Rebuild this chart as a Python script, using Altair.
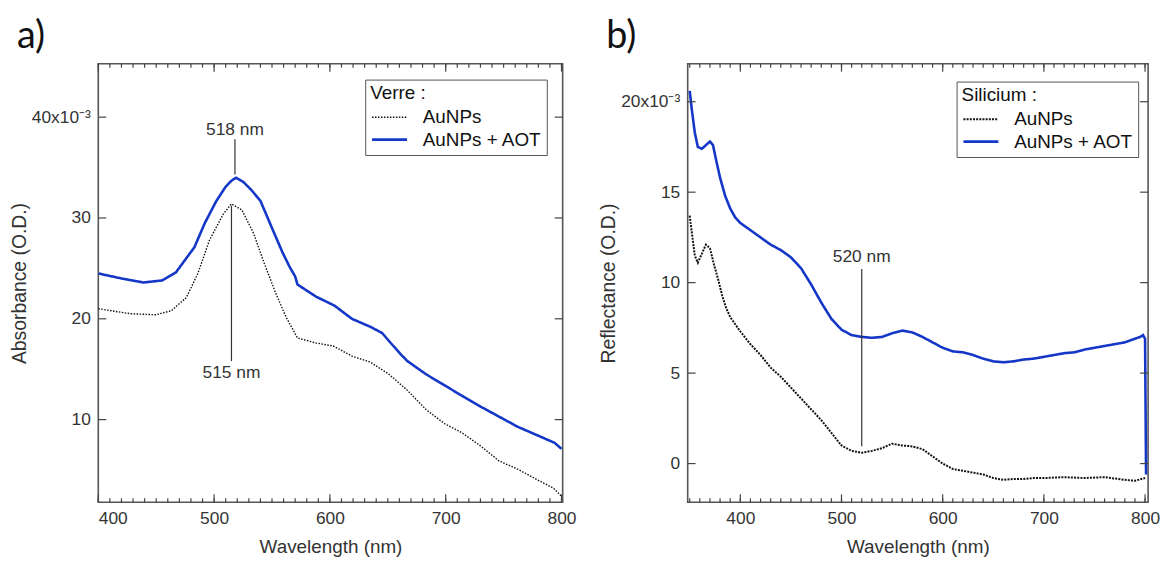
import altair as alt
import pandas as pd

# ---------------- Panel a : Verre ----------------
wl_a_aunps = [400, 428, 450, 463, 476, 486, 496, 508, 515, 524, 534, 543, 553, 562, 572,
              588, 603, 619, 635, 651, 667, 683, 699, 714, 730, 746, 762, 778, 793, 800]
abs_a_aunps = [21.0, 20.5, 20.4, 20.8, 22.1, 24.5, 27.8, 30.4, 31.4, 30.8, 28.5, 25.6, 22.6, 20.2, 18.1,
               17.6, 17.3, 16.3, 15.7, 14.5, 12.9, 11.0, 9.6, 8.7, 7.4, 5.9, 5.1, 4.1, 3.2, 2.4]

wl_a_aot = [400, 420, 439, 455, 467, 483, 492, 502, 510, 515, 519, 525, 532, 540, 550, 559, 565, 570,
            572, 588, 604, 619, 635, 645, 651, 661, 667, 683, 699, 715, 730, 746, 762, 778, 794, 800]
abs_a_aot = [24.5, 24.0, 23.6, 23.8, 24.6, 27.1, 29.5, 31.7, 33.1, 33.7, 34.0, 33.6, 32.8, 31.7, 29.0, 26.6, 25.2, 24.2,
             23.4, 22.2, 21.3, 20.0, 19.2, 18.6, 17.8, 16.5, 15.8, 14.5, 13.4, 12.3, 11.3, 10.3, 9.3, 8.5, 7.7, 7.1]

# annotations a
ann_a_wl = [518, 515]
ann_a_y1 = [37.8, 31.2]
ann_a_y2 = [34.3, 15.8]
ann_a_text = ["518 nm", "515 nm"]
ann_a_texty = [38.25, 14.1]

# ---------------- Panel b : Silicium ----------------
wl_b_aunps = [350, 352, 355, 358, 362, 366, 370, 374, 378, 382, 386, 390, 400, 410, 420, 430, 440, 450,
              460, 470, 480, 490, 500, 510, 520, 530, 540, 550, 560, 570, 580, 590, 600, 610, 620, 630,
              640, 650, 660, 670, 680, 690, 700, 720, 740, 760, 780, 790, 800]
ref_b_aunps = [13.7, 12.8, 11.5, 11.1, 11.6, 12.1, 11.9, 11.0, 10.2, 9.3, 8.6, 8.1, 7.3, 6.6, 6.0, 5.3, 4.8, 4.2,
               3.6, 3.0, 2.4, 1.7, 1.0, 0.7, 0.6, 0.7, 0.85, 1.1, 1.0, 0.95, 0.8, 0.4, 0.0, -0.3, -0.4, -0.5,
               -0.6, -0.8, -0.9, -0.85, -0.85, -0.8, -0.8, -0.75, -0.8, -0.75, -0.9, -0.95, -0.8]

wl_b_aot = [350, 352, 355, 358, 362, 366, 370, 373, 376, 380, 385, 390, 395, 400, 410, 420, 430, 440, 450,
            460, 470, 480, 490, 500, 510, 520, 530, 540, 550, 560, 570, 580, 590, 600, 610, 620, 630, 640,
            650, 660, 670, 680, 690, 700, 710, 720, 730, 740, 750, 760, 770, 780, 790, 795, 798, 800, 801]
ref_b_aot = [20.6, 19.6, 18.3, 17.5, 17.4, 17.6, 17.8, 17.6, 16.8, 15.8, 14.8, 14.1, 13.6, 13.3, 12.9, 12.5, 12.1, 11.8, 11.4,
             10.8, 9.9, 8.9, 8.0, 7.4, 7.1, 7.0, 6.95, 7.0, 7.2, 7.35, 7.25, 7.0, 6.7, 6.4, 6.2, 6.15, 6.0, 5.8,
             5.65, 5.6, 5.65, 5.75, 5.8, 5.9, 6.0, 6.1, 6.15, 6.3, 6.4, 6.5, 6.6, 6.7, 6.9, 7.0, 7.1, 6.9, -0.6]

ann_b_wl = [520]
ann_b_y1 = [10.75]
ann_b_y2 = [0.96]
ann_b_text = ["520 nm"]
ann_b_texty = [11.13]

# ticks
x_major = [400, 500, 600, 700, 800]
x_minor_a = list(range(400, 801, 10))
x_minor_b = list(range(350, 801, 10))
y_major_a = [10, 20, 30, 40]
y_major_b = [0, 5, 10, 15, 20]

panel_labels = ["a)", "b)"]
series_names = ["AuNPs", "AuNPs + AOT"]
series_colors = ["#111111", "#1537c8"]

FONT = "Liberation Sans"
TXT = "#333333"
TICK = "#444444"
W_A, W_B, H = 468, 464, 442


def long_df(wl1, v1, wl2, v2):
    d1 = pd.DataFrame({"wl": wl1, "v": v1, "series": series_names[0]})
    d2 = pd.DataFrame({"wl": wl2, "v": v2, "series": series_names[1]})
    return pd.concat([d1, d2], ignore_index=True)


def panel(df, ann_df, xdom, ydom, xminor, ymajor, top_label, ytitle, legend_title,
          w, h, legx, legy, panel_label, dash, black_w):
    xs = alt.Scale(domain=xdom, nice=False, zero=False)
    ys = alt.Scale(domain=ydom, nice=False, zero=False)
    legend = alt.Legend(
        title=legend_title, orient="none", legendX=legx, legendY=legy,
        titleFont=FONT, titleFontSize=19, titleFontWeight="normal", titleColor="#111",
        labelFont=FONT, labelFontSize=19, labelColor="#111", labelOffset=21,
        symbolSize=484, symbolType="M-1.6,0H1.6", symbolOffset=7,
        strokeColor="#555", fillColor="white",
        padding=5, rowPadding=0, titlePadding=2, cornerRadius=0,
    )
    color = alt.Color("series:N", scale=alt.Scale(domain=series_names, range=series_colors), legend=legend)
    sdash = alt.StrokeDash("series:N", scale=alt.Scale(domain=series_names, range=[dash, [1, 0]]), legend=legend)
    swidth = alt.StrokeWidth("series:N", scale=alt.Scale(domain=series_names, range=[black_w, 2.6]), legend=legend)

    x_bottom = alt.Axis(orient="bottom", values=x_major, grid=False, domain=False, ticks=False, tickSize=0,
                        labelPadding=7, labelFont=FONT, labelFontSize=17.5, labelColor=TXT,
                        title="Wavelength (nm)", titleFont=FONT, titleFontSize=19, titleFontWeight="normal",
                        titleColor=TXT, titlePadding=11)
    lab_expr = f"datum.value == {ymajor[-1]} ? '{top_label}' : datum.label"
    y_left = alt.Axis(orient="left", values=ymajor, grid=False, domain=False, ticks=False, tickSize=0,
                      labelPadding=8, labelExpr=lab_expr, labelFont=FONT, labelFontSize=17.5, labelColor=TXT,
                      title=ytitle, titleFont=FONT, titleFontSize=19.5, titleFontWeight="normal",
                      titleColor=TXT, titlePadding=2)

    base = alt.Chart(df)
    l1 = base.transform_filter(alt.datum.series == series_names[0]).mark_line(clip=True).encode(
        x=alt.X("wl:Q", scale=xs, axis=x_bottom),
        y=alt.Y("v:Q", scale=ys, axis=y_left),
        color=color, strokeDash=sdash, strokeWidth=swidth,
    )
    l2 = base.transform_filter(alt.datum.series == series_names[1]).mark_line(clip=True).encode(
        x=alt.X("wl:Q", scale=xs, axis=None),
        y=alt.Y("v:Q", scale=ys, axis=None),
        color=color, strokeDash=sdash, strokeWidth=swidth,
    )
    rules = alt.Chart(ann_df).mark_rule(color="#333", strokeWidth=1.2).encode(
        x=alt.X("wl:Q", scale=xs, axis=None),
        y=alt.Y("y1:Q", scale=ys, axis=None),
        y2="y2:Q",
    )
    texts = alt.Chart(ann_df).mark_text(font=FONT, fontSize=17.5, color=TXT, align="center",
                                        baseline="alphabetic").encode(
        x=alt.X("wl:Q", scale=xs, axis=None),
        y=alt.Y("ty:Q", scale=ys, axis=None),
        text="label:N",
    )
    plabel = alt.Chart(pd.DataFrame({"label": [panel_label]})).mark_text(
        font="Lato", fontSize=38, color="#111", align="left", baseline="alphabetic", clip=False
    ).encode(x=alt.value(-82), y=alt.value(-16), text="label:N")

    # frame ticks (Igor style, pointing inward, mirrored)
    xmin_df = pd.DataFrame({"t": xminor})
    xmaj_df = pd.DataFrame({"t": x_major})
    ymaj_df = pd.DataFrame({"t": ymajor})
    tk = dict(color=TICK, strokeWidth=1.2)
    ticks = [
        alt.Chart(xmin_df).mark_rule(**tk).encode(x=alt.X("t:Q", scale=xs, axis=None),
                                                  y=alt.value(h), y2=alt.value(h - 4)),
        alt.Chart(xmin_df).mark_rule(**tk).encode(x=alt.X("t:Q", scale=xs, axis=None),
                                                  y=alt.value(0), y2=alt.value(4)),
        alt.Chart(xmaj_df).mark_rule(**tk).encode(x=alt.X("t:Q", scale=xs, axis=None),
                                                  y=alt.value(h), y2=alt.value(h - 8)),
        alt.Chart(xmaj_df).mark_rule(**tk).encode(x=alt.X("t:Q", scale=xs, axis=None),
                                                  y=alt.value(0), y2=alt.value(8)),
        alt.Chart(ymaj_df).mark_rule(**tk).encode(y=alt.Y("t:Q", scale=ys, axis=None),
                                                  x=alt.value(0), x2=alt.value(8)),
        alt.Chart(ymaj_df).mark_rule(**tk).encode(y=alt.Y("t:Q", scale=ys, axis=None),
                                                  x=alt.value(w), x2=alt.value(w - 8)),
    ]

    return alt.layer(l1, l2, *ticks, rules, texts, plabel).resolve_axis(
        x="independent", y="independent"
    ).properties(width=w, height=h)


df_a = long_df(wl_a_aunps, abs_a_aunps, wl_a_aot, abs_a_aot)
ann_a = pd.DataFrame({"wl": ann_a_wl, "y1": ann_a_y1, "y2": ann_a_y2, "label": ann_a_text, "ty": ann_a_texty})
df_b = long_df(wl_b_aunps, ref_b_aunps, wl_b_aot, ref_b_aot)
ann_b = pd.DataFrame({"wl": ann_b_wl, "y1": ann_b_y1, "y2": ann_b_y2, "label": ann_b_text, "ty": ann_b_texty})

pa = panel(df_a, ann_a, [400, 801], [1.8, 45.3], x_minor_a, y_major_a, "40x10⁻³",
           "Absorbance (O.D.)", "Verre :", W_A, H, 269, 16, panel_labels[0], [1.5, 1.5], 1.4)
pb = panel(df_b, ann_b, [348, 803], [-2.14, 22.1], x_minor_b, y_major_b, "20x10⁻³",
           "Reflectance (O.D.)", "Silicium :", W_B, H, 271, 18, panel_labels[1], [2, 1.2], 2.0)

chart = alt.hconcat(pa, pb, spacing=20).resolve_scale(
    color="independent", strokeDash="independent", strokeWidth="independent"
).resolve_legend(
    color="independent", strokeDash="independent", strokeWidth="independent"
).configure_view(stroke="#555", strokeWidth=1.6).properties(
    padding={"left": 0, "top": 7, "right": 0, "bottom": 0}
)

chart.save("out.html", embed_options={"renderer": "svg", "actions": False})
